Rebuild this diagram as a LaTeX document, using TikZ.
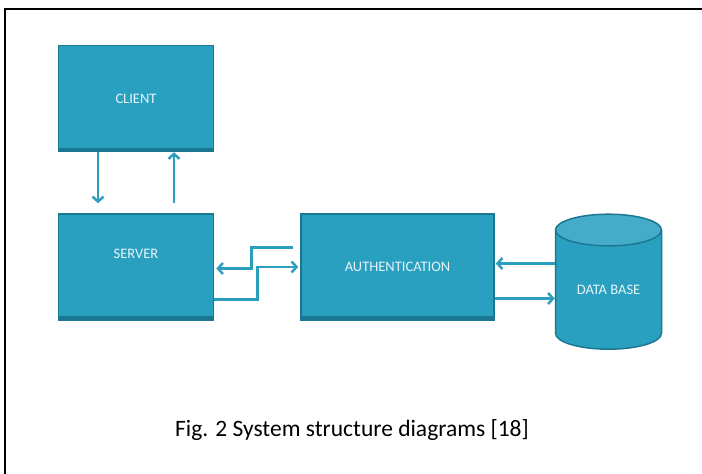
\documentclass[tikz,border=0pt]{standalone}
\usepackage{fontspec}
\setmainfont{Carlito}
\usetikzlibrary{positioning, shapes.geometric, arrows.meta}

\definecolor{boxblue}{RGB}{42,160,192}
\definecolor{boxedge}{RGB}{28,120,146}
\definecolor{linkblue}{RGB}{44,158,190}
\definecolor{labelwhite}{RGB}{228,244,248}

\begin{document}
\begin{tikzpicture}[x=1pt, y=1pt, node distance=61pt,
  every node/.style={font=\fontsize{14.5}{16}\selectfont},
  block/.style={draw=boxedge, line width=1.5pt, fill=boxblue, text=labelwhite,
    rectangle, minimum width=155pt, minimum height=106pt, inner sep=0pt,
    path picture={\fill[boxedge] (path picture bounding box.south west)
      rectangle ([yshift=4pt]path picture bounding box.south east);}},
  link/.style={draw=linkblue, line width=2.5pt, -{Straight Barb[length=5pt,width=11pt]}}]
\useasboundingbox (0,0) rectangle (702,-474);
% frame of the figure
\draw[line width=2pt] (5,-474) -- (5,-9) -- (702,-9);

\node (client) [block] at (136,-98.5) {CLIENT};
\node (server) [block, below=of client] {\raisebox{26pt}{SERVER}};
\node (auth) [block, right=86pt of server, minimum width=193pt] {AUTHENTICATION};
\node (db) [cylinder, shape border rotate=90, aspect=0.5, draw=boxedge,
  line width=1.5pt, cylinder uses custom fill, cylinder body fill=boxblue,
  cylinder end fill=boxblue!88!white, text=labelwhite, minimum width=106pt,
  minimum height=135pt, inner sep=0pt, right=60pt of auth, yshift=-23pt]
  {\raisebox{-4pt}{DATA BASE}};

\draw[link] ([xshift=-38pt]client.south) -- ([xshift=-38pt,yshift=10pt]server.north);
\draw[link] ([xshift=38pt,yshift=10pt]server.north) -- ([xshift=38pt]client.south);
\draw[link] ([xshift=-7pt,yshift=19.5pt]auth.west) -- ++(-42pt,0) |- ([xshift=2pt,yshift=-1.5pt]server.east);
\draw[link] ([yshift=-32.5pt]server.east) -- ++(43pt,0) |- ([xshift=-2pt]auth.west);
\draw[link] ([yshift=26.5pt]db.west) -- ([xshift=1pt,yshift=3.5pt]auth.east);
\draw[link] ([yshift=-31.5pt]auth.east) -- ([yshift=-8.5pt]db.west);

\node (caption) at (352,-430) [font=\fontsize{23.5}{26}\selectfont]
  {Fig. 2 System structure diagrams [18]};
\end{tikzpicture}
\end{document}
